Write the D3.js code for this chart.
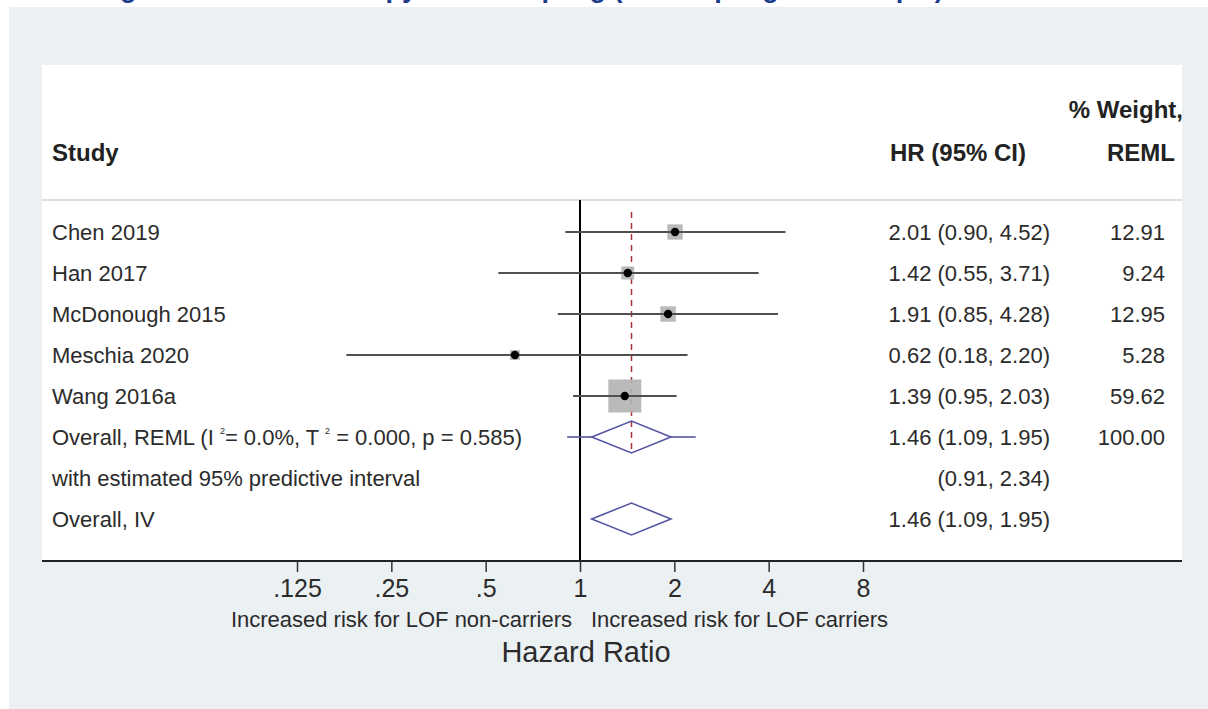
<!DOCTYPE html>
<html>
<head>
<meta charset="utf-8">
<script src="https://cdn.jsdelivr.net/npm/d3@7"></script>
<style>
  body { margin: 0; background: #fff; }
  text { font-family: "Liberation Sans", Arial, sans-serif; }
</style>
</head>
<body>
<svg id="chart" width="1208" height="709"></svg>
<script>
// study rows
const studies = ["Chen 2019", "Han 2017", "McDonough 2015", "Meschia 2020", "Wang 2016a"];
const hr = [2.01, 1.42, 1.91, 0.62, 1.39];
const lower = [0.90, 0.55, 0.85, 0.18, 0.95];
const upper = [4.52, 3.71, 4.28, 2.20, 2.03];
const weights = [12.91, 9.24, 12.95, 5.28, 59.62];

// pooled estimates
const remlEst = [1.46, 1.09, 1.95];
const predInterval = [0.91, 2.34];
const ivEst = [1.46, 1.09, 1.95];
const remlStats = ["0.0%", "0.000", "0.585"];

const tickValues = [0.125, 0.25, 0.5, 1, 2, 4, 8];
const tickLabels = [".125", ".25", ".5", "1", "2", "4", "8"];

const svg = d3.select("#chart");
const fmt = d3.format(".2f");
const textCol = "#2b2b2b";
const diamondCol = "#5555a3";

// backgrounds
svg.append("rect").attr("x", 9).attr("y", 7).attr("width", 1199).attr("height", 702).attr("fill", "#ebf0f3");
svg.append("rect").attr("x", 42).attr("y", 65).attr("width", 1140).attr("height", 496).attr("fill", "#fff");

// caption above the panel, only its lowest part shows in the frame
svg.append("text")
  .attr("x", 96).attr("y", -3)
  .attr("font-family", "'Open Sans', sans-serif")
  .attr("font-weight", "bold").attr("font-size", 27)
  .attr("fill", "#1c3a8a")
  .text("Figure 1. Results of copy data sampling (all sampling and sample)");

const x = d3.scaleLog().base(2).domain([0.125, 8]).range([297, 863]);
const y = d3.scaleLinear().domain([0, 7]).range([232, 519]);
const box = d3.scaleSqrt().domain([0, d3.max(weights)]).range([0, 33]);

// header
const head = svg.append("g").attr("font-weight", "bold").attr("font-size", 24).attr("fill", "#222");
head.append("text").attr("x", 52).attr("y", 161).text("Study");
head.append("text").attr("x", 1026).attr("y", 161).attr("text-anchor", "end").text("HR (95% CI)");
head.append("text").attr("x", 1183).attr("y", 118).attr("text-anchor", "end").text("% Weight,");
head.append("text").attr("x", 1175).attr("y", 161).attr("text-anchor", "end").text("REML");

svg.append("line").attr("x1", 42).attr("x2", 1182).attr("y1", 200).attr("y2", 200)
  .attr("stroke", "#cfd3d6").attr("stroke-width", 1.5);

// null line and pooled dashed line
svg.append("line").attr("x1", x(1)).attr("x2", x(1)).attr("y1", 200).attr("y2", 561)
  .attr("stroke", "#000").attr("stroke-width", 2);
svg.append("line").attr("x1", x(remlEst[0])).attr("x2", x(remlEst[0])).attr("y1", 212).attr("y2", y(5) + 16)
  .attr("stroke", "#a8323c").attr("stroke-width", 1.5).attr("stroke-dasharray", "6,5");

const rows = studies.map((s, i) => ({name: s, hr: hr[i], lo: lower[i], hi: upper[i], w: weights[i], i}));

const g = svg.append("g");
g.selectAll(".ci").data(rows).enter().append("line")
  .attr("x1", d => x(d.lo)).attr("x2", d => x(d.hi))
  .attr("y1", d => y(d.i)).attr("y2", d => y(d.i))
  .attr("stroke", "#505050").attr("stroke-width", 2.2);
g.selectAll(".box").data(rows).enter().append("rect")
  .attr("x", d => x(d.hr) - box(d.w) / 2).attr("y", d => y(d.i) - box(d.w) / 2)
  .attr("width", d => box(d.w)).attr("height", d => box(d.w))
  .attr("fill", "#b3b3b3").attr("fill-opacity", 0.9);
g.selectAll(".ci2").data(rows).enter().append("line")
  .attr("x1", d => x(d.lo)).attr("x2", d => x(d.hi))
  .attr("y1", d => y(d.i)).attr("y2", d => y(d.i))
  .attr("stroke", "#505050").attr("stroke-width", 1.8);
g.selectAll(".pt").data(rows).enter().append("circle")
  .attr("cx", d => x(d.hr)).attr("cy", d => y(d.i)).attr("r", 4.2).attr("fill", "#000");

// diamonds
const diamond = (est, row) => {
  const cy = y(row);
  return `M${x(est[1])},${cy}L${x(est[0])},${cy - 16}L${x(est[2])},${cy}L${x(est[0])},${cy + 16}Z`;
};
svg.append("line").attr("x1", x(predInterval[0])).attr("x2", x(remlEst[1])).attr("y1", y(5)).attr("y2", y(5))
  .attr("stroke", diamondCol).attr("stroke-width", 1.6);
svg.append("line").attr("x1", x(remlEst[2])).attr("x2", x(predInterval[1])).attr("y1", y(5)).attr("y2", y(5))
  .attr("stroke", diamondCol).attr("stroke-width", 1.6);
svg.append("path").attr("d", diamond(remlEst, 5)).attr("fill", "none").attr("stroke", diamondCol).attr("stroke-width", 1.6);
svg.append("path").attr("d", diamond(ivEst, 7)).attr("fill", "none").attr("stroke", diamondCol).attr("stroke-width", 1.6);

// left labels
const body = svg.append("g").attr("font-size", 22).attr("fill", textCol);
body.selectAll(".lab").data(rows).enter().append("text")
  .attr("x", 52).attr("y", d => y(d.i) + 8).text(d => d.name);
const ov = body.append("text").attr("x", 52).attr("y", y(5) + 8);
ov.append("tspan").text("Overall, REML (I ");
ov.append("tspan").attr("font-size", 9).attr("dy", -11).text("2");
ov.append("tspan").attr("dy", 11).text("= " + remlStats[0] + ", T ");
ov.append("tspan").attr("font-size", 9).attr("dy", -11).text("2");
ov.append("tspan").attr("dy", 11).text(" = " + remlStats[1] + ", p = " + remlStats[2] + ")");
body.append("text").attr("x", 52).attr("y", y(6) + 8).text("with estimated 95% predictive interval");
body.append("text").attr("x", 52).attr("y", y(7) + 8).text("Overall, IV");

// right columns
body.selectAll(".hrt").data(rows).enter().append("text")
  .attr("x", 1050).attr("y", d => y(d.i) + 8).attr("text-anchor", "end")
  .text(d => `${fmt(d.hr)} (${fmt(d.lo)}, ${fmt(d.hi)})`);
body.selectAll(".wt").data(rows).enter().append("text")
  .attr("x", 1165).attr("y", d => y(d.i) + 8).attr("text-anchor", "end")
  .text(d => fmt(d.w));
body.append("text").attr("x", 1050).attr("y", y(5) + 8).attr("text-anchor", "end")
  .text(`${fmt(remlEst[0])} (${fmt(remlEst[1])}, ${fmt(remlEst[2])})`);
body.append("text").attr("x", 1165).attr("y", y(5) + 8).attr("text-anchor", "end").text(fmt(d3.sum(weights)));
body.append("text").attr("x", 1050).attr("y", y(6) + 8).attr("text-anchor", "end")
  .text(`(${fmt(predInterval[0])}, ${fmt(predInterval[1])})`);
body.append("text").attr("x", 1050).attr("y", y(7) + 8).attr("text-anchor", "end")
  .text(`${fmt(ivEst[0])} (${fmt(ivEst[1])}, ${fmt(ivEst[2])})`);

// x axis
svg.append("line").attr("x1", 42).attr("x2", 1182).attr("y1", 561).attr("y2", 561)
  .attr("stroke", "#222").attr("stroke-width", 2);
const axis = d3.axisBottom(x).tickValues(tickValues)
  .tickFormat((d, i) => tickLabels[i]).tickSize(11).tickPadding(20);
const ax = svg.append("g").attr("transform", "translate(0,561)").call(axis);
ax.select(".domain").remove();
ax.selectAll(".tick line").attr("stroke", "#333").attr("stroke-width", 1.5);
ax.selectAll(".tick text").attr("font-size", 25).attr("fill", textCol)
  .attr("font-family", "'Liberation Sans', Arial, sans-serif").attr("dy", "0.2em");

svg.append("text").attr("x", x(1) - 8).attr("y", 627).attr("text-anchor", "end")
  .attr("font-size", 22).attr("fill", textCol).text("Increased risk for LOF non-carriers");
svg.append("text").attr("x", x(1) + 11).attr("y", 627)
  .attr("font-size", 22).attr("fill", textCol).text("Increased risk for LOF carriers");
svg.append("text").attr("x", 586).attr("y", 662).attr("text-anchor", "middle")
  .attr("font-size", 29).attr("fill", textCol).text("Hazard Ratio");
</script>
</body>
</html>
